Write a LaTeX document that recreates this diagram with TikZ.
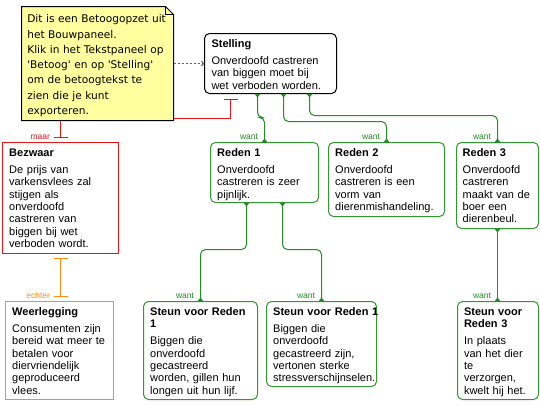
\documentclass[tikz,border=0pt]{standalone}
\usepackage{fontspec}
\setmainfont{Liberation Sans}
\newfontfamily\notefont{DejaVu Sans}
\usetikzlibrary{arrows.meta}
\definecolor{gline}{RGB}{35,140,35}
\definecolor{gbox}{RGB}{50,150,50}
\definecolor{rline}{RGB}{235,20,20}
\definecolor{orng}{RGB}{255,140,20}
\definecolor{notefill}{RGB}{255,255,160}
\definecolor{dgray}{RGB}{100,100,100}
\tikzset{
  box/.style={draw, line width=1pt, fill=white, inner sep=0pt, outer sep=0pt, anchor=north west},
  rbox/.style={box, rounded corners=5pt},
  greenbox/.style={rbox, draw=gbox},
  blackbox/.style={rbox, draw=black},
  redbox/.style={box, draw=rline},
  orangebox/.style={box, draw=orng},
  txt/.style={anchor=north west, inner sep=0pt, outer sep=0pt, align=left, font=\fontsize{11}{12.3}\selectfont},
  lbl/.style={anchor=base east, inner sep=0pt, outer sep=0pt, font=\fontsize{8.5}{9}\selectfont},
  gconn/.style={draw=gline, line width=1pt, rounded corners=5pt, arrows={Triangle[reversed,width=6pt,length=4pt]-Triangle[reversed,width=6pt,length=4pt]}},
  tconn/.style={line width=1pt, arrows={Bar[width=14pt]-Bar[width=14pt]}},
}
\begin{document}
\begin{tikzpicture}[x=1pt,y=-1pt]
\useasboundingbox (0,0) rectangle (540,405);

% boxes
\node[blackbox, minimum width=132pt, minimum height=60pt] (stel) at (204.5,33.5) {};
\node[greenbox, minimum width=108pt, minimum height=60pt] (r1) at (210.5,142.5) {};
\node[greenbox, minimum width=116pt, minimum height=74pt] (r2) at (328.5,142.5) {};
\node[greenbox, minimum width=82pt, minimum height=86pt] (r3) at (456.5,142.5) {};
\node[redbox, minimum width=116pt, minimum height=111pt] (bez) at (2.5,142.5) {};
\node[orangebox, minimum width=108pt, minimum height=98pt] (weer) at (5.5,301.5) {};
\draw[orng, line width=1pt] (weer.north west) rectangle (weer.south east);
\node[greenbox, minimum width=114pt, minimum height=98pt] (s1a) at (143.5,301.5) {};
\node[greenbox, minimum width=110pt, minimum height=85pt] (s1b) at (266.5,301.5) {};
\node[greenbox, minimum width=81pt, minimum height=98pt] (s3) at (457.5,301.5) {};

% box texts
\node[txt, text width=130pt] (tstel) at ([xshift=7pt,yshift=-5.4pt]stel.north west)
  {\strut\textbf{Stelling}\\[4.7pt]Onverdoofd castreren\\van biggen moet bij\\wet verboden worden.};
\node[txt, text width=105pt] (tr1) at ([xshift=6.7pt,yshift=-5.4pt]r1.north west)
  {\strut\textbf{Reden 1}\\[4.7pt]Onverdoofd\\castreren is zeer\\pijnlijk.};
\node[txt, text width=112pt] (tr2) at ([xshift=6.7pt,yshift=-5.4pt]r2.north west)
  {\strut\textbf{Reden 2}\\[4.7pt]Onverdoofd\\castreren is een\\vorm van\\dierenmishandeling.};
\node[txt, text width=80pt] (tr3) at ([xshift=6.2pt,yshift=-5.4pt]r3.north west)
  {\strut\textbf{Reden 3}\\[4.7pt]Onverdoofd\\castreren\\maakt van de\\boer een\\dierenbeul.};
\node[txt, text width=112pt] (tbez) at ([xshift=6.7pt,yshift=-5.4pt]bez.north west)
  {\strut\textbf{Bezwaar}\\[4.7pt]De prijs van\\varkensvlees zal\\stijgen als\\onverdoofd\\castreren van\\biggen bij wet\\verboden wordt.};
\node[txt, text width=105pt] (tweer) at ([xshift=6.7pt,yshift=-5.4pt]weer.north west)
  {\strut\textbf{Weerlegging}\\[4.7pt]Consumenten zijn\\bereid wat meer te\\betalen voor\\diervriendelijk\\geproduceerd\\vlees.};
\node[txt, text width=110pt] (ts1a) at ([xshift=6.7pt,yshift=-5.4pt]s1a.north west)
  {\strut\textbf{Steun voor Reden}\\\textbf{1}\\[4.7pt]Biggen die\\onverdoofd\\gecastreerd\\worden, gillen hun\\longen uit hun lijf.};
\node[txt, text width=110pt] (ts1b) at ([xshift=6.7pt,yshift=-5.4pt]s1b.north west)
  {\strut\textbf{Steun voor Reden 1}\\[4.7pt]Biggen die\\onverdoofd\\gecastreerd zijn,\\vertonen sterke\\stressverschijnselen.};
\node[txt, text width=78pt] (ts3) at ([xshift=6.5pt,yshift=-5.4pt]s3.north west)
  {\strut\textbf{Steun voor}\\\textbf{Reden 3}\\[4.7pt]In plaats\\van het dier\\te\\verzorgen,\\kwelt hij het.};

% red and orange connectors
\draw[tconn, rline] ([yshift=5pt]bez.north) -- ++(0,-19) -| ([xshift=26pt,yshift=-5pt]stel.south west);
\coordinate (wtop) at ([yshift=5pt]weer.north);
\draw[tconn, orng] ([yshift=-4pt]bez.south) -- (wtop -| bez.south);
\node[lbl, text=rline] (maar) at ([xshift=-10.5pt,yshift=3.5pt]bez.north) {maar};
\node[lbl, text=orng] (echter) at ([xshift=-9.5pt,yshift=3.2pt]weer.north) {echter};

% note
\node[inner sep=0pt, outer sep=0pt, minimum width=152pt, minimum height=114pt, anchor=north west] (note) at (21.5,6.5) {};
\filldraw[fill=notefill, draw=black, line width=1pt] (note.north west) -- ([xshift=-8pt]note.north east) -- ([yshift=-8pt]note.north east) -- (note.south east) -- (note.south west) -- cycle;
\draw[line width=0.7pt] ([xshift=-8pt]note.north east) -- ([xshift=-8pt,yshift=-8pt]note.north east) -- ([yshift=-8pt]note.north east);
\node[anchor=north west, inner sep=0pt, outer sep=0pt, text width=148pt, align=left, font=\notefont\fontsize{10.6}{15.3}\selectfont] (notetext) at (27.3,12)
  {\strut Dit is een Betoogopzet uit\\het Bouwpaneel.\\Klik in het Tekstpaneel op\\'Betoog' en op 'Stelling'\\om de betoogtekst te\\zien die je kunt\\exporteren.};

% dashed connector
\draw[dgray, line width=1pt, dash pattern=on 2pt off 2pt, arrows={-Straight Barb[length=2.5pt,width=5pt]}] (stel.west -| note.east) -- (stel.west);

% green connectors
\draw[gconn] ([xshift=53pt]stel.south west) -- ++(0,24) -| (r1.north);
\draw[gconn] ([xshift=79pt]stel.south west) -- ++(0,28) -| (r2.north);
\draw[gconn] ([xshift=105pt]stel.south west) -- ++(0,22) -| (r3.north);
\draw[gconn] ([xshift=36pt]r1.south west) -- ++(0,47) -| (s1a.north);
\draw[gconn] ([xshift=72pt]r1.south west) -- ++(0,47) -| (s1b.north);
\coordinate (s3top) at (r3.south |- s3.north);
\draw[gconn] (r3.south) -- (s3top);

% want labels
\node[lbl, text=gline] (w1) at ([xshift=-6.5pt,yshift=3pt]r1.north) {want};
\node[lbl, text=gline] (w2) at ([xshift=-6.5pt,yshift=3pt]r2.north) {want};
\node[lbl, text=gline] (w3) at ([xshift=-6.5pt,yshift=3pt]r3.north) {want};
\node[lbl, text=gline] (w4) at ([xshift=-6.5pt,yshift=3pt]s1a.north) {want};
\node[lbl, text=gline] (w5) at ([xshift=-6.5pt,yshift=3pt]s1b.north) {want};
\node[lbl, text=gline] (w6) at ([xshift=-6.5pt,yshift=3pt]s3top) {want};
\end{tikzpicture}
\end{document}
